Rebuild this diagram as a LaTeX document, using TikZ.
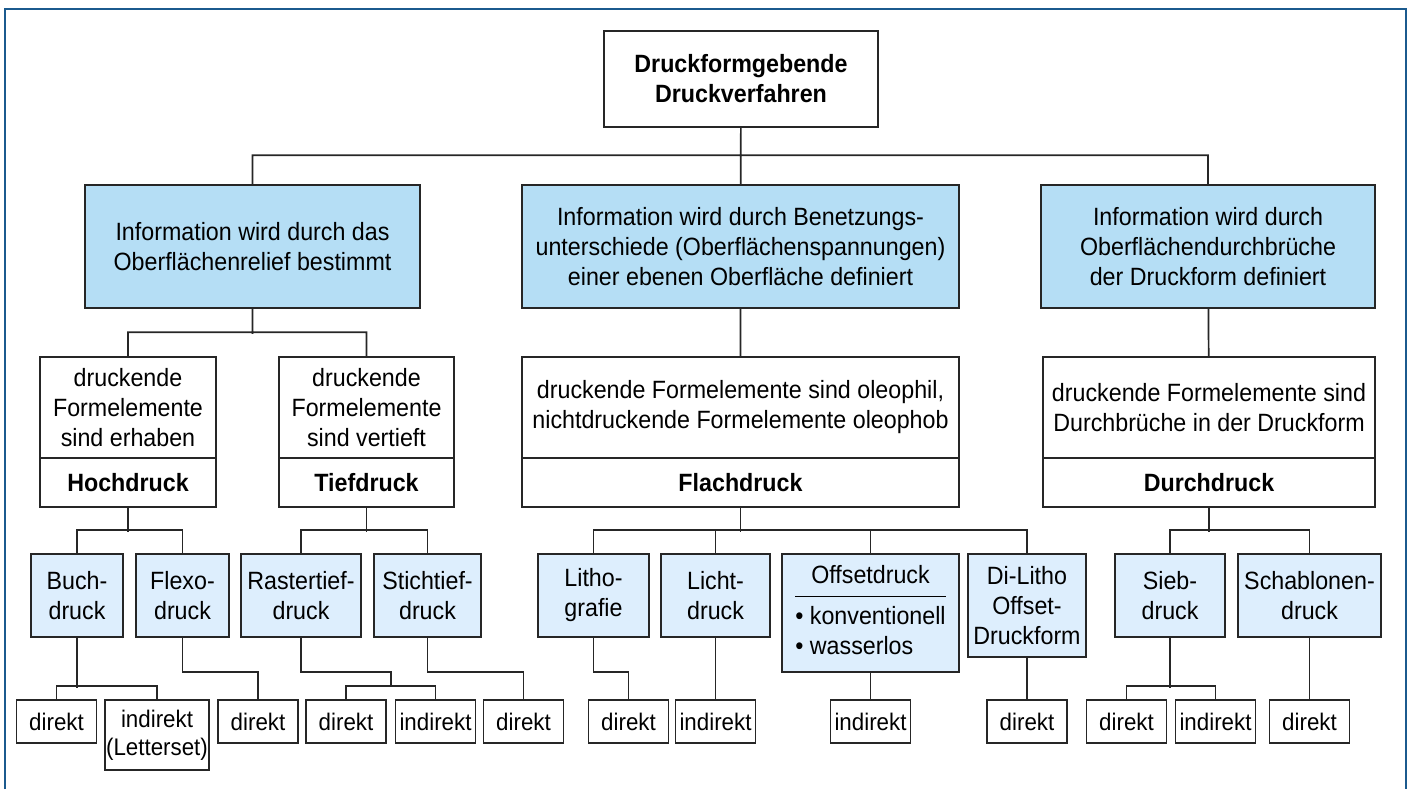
\documentclass[tikz,border=0pt]{standalone}
\usepackage{fontspec}
\setmainfont[FakeStretch=0.93]{Liberation Sans}
\usepackage{tikz}
\usepackage{xcolor}
\usetikzlibrary{positioning}

\definecolor{framblue}{HTML}{1B5A8E}
\definecolor{infoblue}{HTML}{B5DEF5}
\definecolor{subblue}{HTML}{DDEEFD}

\begin{document}
\begin{tikzpicture}[x=1pt, y=-1pt,
    box/.style={draw=black!85, line width=1.7pt, inner sep=0pt, align=center,
                font=\fontsize{25}{30}\selectfont},
    info/.style={box, fill=infoblue, minimum height=123pt},
    sub/.style={box, fill=subblue, minimum height=83pt},
    leaf/.style={box, fill=white, minimum width=80pt, minimum height=43pt,
                 font=\fontsize{24}{28}\selectfont},
    link/.style={line width=1.7pt, black!85}]
    \useasboundingbox (0,0) rectangle (1412,789);
    \draw[framblue, line width=2.5pt] (5,789) -- (5,9) -- (1406,9) -- (1406,789);

    % top
    \node[box, minimum width=274pt, minimum height=96pt] (root) at (741, 79)
        {\bfseries Druckformgebende\\\bfseries Druckverfahren};

    \node[info, minimum width=335pt] (infoA) at (252.5, 246.5)
        {Information wird durch das\\Oberflächenrelief bestimmt};
    \node[info, minimum width=437pt] (infoB) at (740.5, 246.5)
        {Information wird durch Benetzungs-\\unterschiede (Oberflächenspannungen)\\einer ebenen Oberfläche definiert};
    \node[info, minimum width=334pt] (infoC) at (1208, 246.5)
        {Information wird durch\\Oberflächendurchbrüche\\der Druckform definiert};

    % verfahren
    \node[box, minimum width=176pt, minimum height=101pt] (hochtxt) at (128, 407.5)
        {druckende\\Formelemente\\sind erhaben};
    \node[box, minimum width=176pt, minimum height=49pt] (hoch) at (128, 482.5) {\bfseries Hochdruck};
    \node[box, minimum width=175pt, minimum height=101pt] (tieftxt) at (366.5, 407.5)
        {druckende\\Formelemente\\sind vertieft};
    \node[box, minimum width=175pt, minimum height=49pt] (tief) at (366.5, 482.5) {\bfseries Tiefdruck};
    \node[box, minimum width=437pt, minimum height=101pt] (flachtxt) at (740.5, 407.5)
        {druckende Formelemente sind oleophil,\\nichtdruckende Formelemente oleophob};
    \node[box, minimum width=437pt, minimum height=49pt] (flach) at (740.5, 482.5) {\bfseries Flachdruck};
    \node[box, minimum width=332pt, minimum height=101pt] (durchtxt) at (1209, 407.5)
        {druckende Formelemente sind\\Durchbrüche in der Druckform};
    \node[box, minimum width=332pt, minimum height=49pt] (durch) at (1209, 482.5) {\bfseries Durchdruck};

    % einzelne verfahren
    \node[sub, minimum width=92pt] (buch) at (77, 595.5) {Buch-\\druck};
    \node[sub, minimum width=93pt] (flexo) at (182.5, 595.5) {Flexo-\\druck};
    \node[sub, minimum width=120pt] (raster) at (301, 595.5) {Rastertief-\\druck};
    \node[sub, minimum width=107pt] (stich) at (427.5, 595.5) {Stichtief-\\druck};
    \node[sub, minimum width=111pt] (litho) at (593.5, 595.5) {Litho-\\grafie};
    \node[sub, minimum width=109pt] (licht) at (715.5, 595.5) {Licht-\\druck};
    \node[sub, minimum width=177pt, minimum height=118pt] (offset) at (870.5, 613)
        {\setlength{\arrayrulewidth}{1.3pt}%
         \begin{tabular}{@{}l@{}}\multicolumn{1}{@{}c@{}}{Offsetdruck}\\[3pt]\hline
         \rule{0pt}{27pt}• konventionell\\• wasserlos\end{tabular}};
    \node[sub, minimum width=118pt, minimum height=103pt] (dilitho) at (1027, 605.5)
        {Di-Litho\\Offset-\\Druckform};
    \node[sub, minimum width=110pt] (sieb) at (1170, 595.5) {Sieb-\\druck};
    \node[sub, minimum width=143pt] (schab) at (1309.5, 595.5) {Schablonen-\\druck};

    % direkt / indirekt
    \node[leaf] (buchdir) at (56.5, 721.5) {direkt};
    \node[leaf, minimum width=104pt, minimum height=70pt] (buchind) at (157, 735)
        {indirekt\\(Letterset)};
    \node[leaf] (flexodir) at (258, 721.5) {direkt};
    \node[leaf] (rasterdir) at (346, 721.5) {direkt};
    \node[leaf] (rasterind) at (435.5, 721.5) {indirekt};
    \node[leaf] (stichdir) at (523.5, 721.5) {direkt};
    \node[leaf] (lithodir) at (628.5, 721.5) {direkt};
    \node[leaf] (lichtind) at (715.5, 721.5) {indirekt};
    \node[leaf] (offsetind) at (870.5, 721.5) {indirekt};
    \node[leaf] (dilithodir) at (1027, 721.5) {direkt};
    \node[leaf] (siebdir) at (1126.5, 721.5) {direkt};
    \node[leaf] (siebind) at (1215.5, 721.5) {indirekt};
    \node[leaf] (schabdir) at (1309.5, 721.5) {direkt};

    \coordinate (rasterbus) at (391, 687);

    % verbindungen
    \draw[link] (root) -- (infoB)
        (infoA.north) -- ++(0,-29) -| (infoC.north)
        (infoA.south) -- ++(0,25)
        (hochtxt.north) -- ++(0,-24) -| (tieftxt.north)
        (infoC) -- (durchtxt)
        (infoB) -- (flachtxt);
    \draw[link] (hoch.south) -- ++(0,24)
        (buch.north) -- ++(0,-23) -| (flexo.north)
        (tief.south) -- ++(0,24)
        (raster.north) -- ++(0,-23) -| (stich.north)
        (flach.south) -- ++(0,24)
        (litho.north) -- ++(0,-23) -| (dilitho.north)
        (licht.north) -- ++(0,-23)
        (offset.north) -- ++(0,-23)
        (durch.south) -- ++(0,24)
        (sieb.north) -- ++(0,-23) -| (schab.north);
    \draw[link] (buch.south) -- ++(0,50)
        (buchdir.north) -- ++(0,-13) -| (buchind.north)
        (flexo.south) -- ++(0,34) -| (flexodir.north)
        (raster.south) -- ++(0,34) -| (rasterbus)
        (rasterdir.north) -- ++(0,-13) -| (rasterind.north)
        (stich.south) -- ++(0,34) -| (stichdir.north)
        (litho.south) -- ++(0,34) -| (lithodir.north)
        (licht) -- (lichtind)
        (offset) -- (offsetind)
        (dilitho) -- (dilithodir)
        (sieb.south) -- ++(0,50)
        (siebdir.north) -- ++(0,-13) -| (siebind.north)
        (schab) -- (schabdir);
\end{tikzpicture}
\end{document}
